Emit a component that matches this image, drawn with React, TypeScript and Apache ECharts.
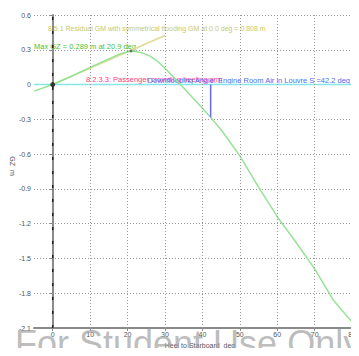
import React, { useEffect, useRef } from "react";
import * as echarts from "echarts";

const gzDeg = [-5, 0, 5, 10, 15, 18, 20.9, 22, 24, 26, 28, 30, 32, 34, 36, 38, 40, 42.2, 45, 50, 55, 60, 65, 70, 75, 80];
const gzVal = [-0.057, 0, 0.072, 0.148, 0.222, 0.265, 0.289, 0.287, 0.273, 0.245, 0.201, 0.14, 0.073, 0.005, -0.065, -0.135, -0.205, -0.283, -0.39, -0.615, -0.885, -1.14, -1.36, -1.59, -1.86, -2.05];
const gmDeg = [0, 30];
const gmVal = [0, 0.423];
const xTicks = [0, 10, 20, 30, 40, 50, 60, 70, 80];
const xGrid = [10, 20, 30, 40, 50, 60, 70, 80];
const maxGz = [20.9, 0.289];
const downflood = [42.2, -0.283];

const FONT = "Liberation Sans, Arial, sans-serif";

export default function App() {
  const ref = useRef<HTMLDivElement>(null);
  useEffect(() => {
    const chart = echarts.init(ref.current!, null, { renderer: "svg" });
    const option: any = {
      animation: false,
      grid: { left: 34, right: 2, top: 15, bottom: 28 },
      xAxis: {
        type: "value",
        min: -5,
        max: 80,
        axisLine: { onZero: false, lineStyle: { color: "#8a8a8a", width: 2 } },
        axisTick: { show: true, customValues: xTicks, length: 3, lineStyle: { color: "#8a8a8a" } },
        axisLabel: { customValues: xTicks, fontSize: 7, color: "#555", fontFamily: FONT, margin: 3 },
        splitLine: { show: false },
      },
      yAxis: {
        type: "value",
        min: -2.1,
        max: 0.6,
        interval: 0.3,
        axisLine: { show: true, lineStyle: { color: "#8a8a8a", width: 2 } },
        axisTick: { show: true, length: 3, lineStyle: { color: "#8a8a8a" } },
        axisLabel: {
          fontSize: 7,
          color: "#555",
          fontFamily: FONT,
          margin: 3,
          formatter: (v: number) => {
            const r = Math.round(v * 10) / 10;
            return r === 0 ? "0" : r.toFixed(1);
          },
        },
        splitLine: { show: true, lineStyle: { color: "#999", type: [1, 2], width: 1 } },
      },
      series: [
        {
          type: "line",
          data: [[-5, 0], [80, 0]],
          symbol: "none",
          lineStyle: { color: "#88e6ea", width: 1.5 },
          markLine: {
            symbol: "none",
            silent: true,
            label: { show: false },
            lineStyle: { color: "#999", type: [1, 2], width: 1 },
            data: xGrid.map((x) => ({ xAxis: x })),
          },
          z: 1,
        },
        {
          type: "line",
          data: [[0, -2.1], [0, 0.6]],
          symbol: "none",
          lineStyle: { color: "#222", width: 1.5, type: [3, 11] },
          z: 2,
        },
        {
          type: "line",
          data: gmDeg.map((d, i) => [d, gmVal[i]]),
          symbol: "none",
          lineStyle: { color: "#dcdc98", width: 1.5 },
          z: 3,
        },
        {
          type: "line",
          data: gzDeg.map((d, i) => [d, gzVal[i]]),
          symbol: "none",
          lineStyle: { color: "#96e296", width: 1.5 },
          z: 4,
        },
        {
          type: "line",
          data: [[downflood[0], 0], [downflood[0], downflood[1]]],
          symbol: "none",
          lineStyle: { color: "#6a6af0", width: 1.5 },
          z: 5,
        },
        {
          type: "scatter",
          data: [[0, 0]],
          symbolSize: 5,
          itemStyle: { color: "#111" },
          z: 6,
        },
        {
          type: "scatter",
          data: [maxGz],
          symbolSize: 3,
          itemStyle: { color: "#555" },
          z: 6,
        },
      ],
      graphic: [
        {
          type: "text",
          x: 48,
          y: 28,
          style: {
            text: "8.5.1 Residual GM with symmetrical flooding GM at 0.0 deg = 0.808 m",
            fill: "#c8c86a",
            fontSize: 7,
            fontFamily: FONT,
            verticalAlign: "middle",
          },
        },
        {
          type: "text",
          x: 34,
          y: 46,
          style: {
            text: "Max GZ = 0.289 m at 20.9 deg",
            fill: "#3ec43e",
            fontSize: 7.5,
            fontFamily: FONT,
            verticalAlign: "middle",
          },
        },
        {
          type: "text",
          x: 86,
          y: 79,
          style: {
            text: "8.2.3.3: Passenger crowding heeling arm",
            fill: "#ff3a8c",
            fontSize: 7.5,
            fontFamily: FONT,
            verticalAlign: "middle",
          },
        },
        {
          type: "text",
          x: 350,
          y: 80,
          style: {
            text: "Downflooding Angle: Engine Room Air in Louvre S =42.2 deg",
            fill: "#4f6ff0",
            fontSize: 7.5,
            fontFamily: FONT,
            verticalAlign: "middle",
            align: "right",
          },
        },
        {
          type: "text",
          x: 200,
          y: 345,
          style: {
            text: "Heel to Starboard  deg",
            fill: "#555",
            fontSize: 7,
            fontFamily: FONT,
            verticalAlign: "middle",
            align: "center",
          },
        },
        {
          type: "text",
          x: 12,
          y: 166,
          rotation: -Math.PI / 2,
          style: {
            text: "GZ  m",
            fill: "#555",
            fontSize: 7,
            fontFamily: FONT,
            verticalAlign: "middle",
            align: "center",
          },
        },
        {
          type: "text",
          x: 15,
          y: 343,
          z: 100,
          style: {
            text: "For Student Use Only",
            fill: "rgba(160,160,160,0.7)",
            fontSize: 36,
            fontFamily: FONT,
            verticalAlign: "middle",
          },
        },
      ],
    };
    chart.setOption(option);
    return () => chart.dispose();
  }, []);
  return <div ref={ref} style={{ width: 359, height: 356, margin: -8 }} />;
}
